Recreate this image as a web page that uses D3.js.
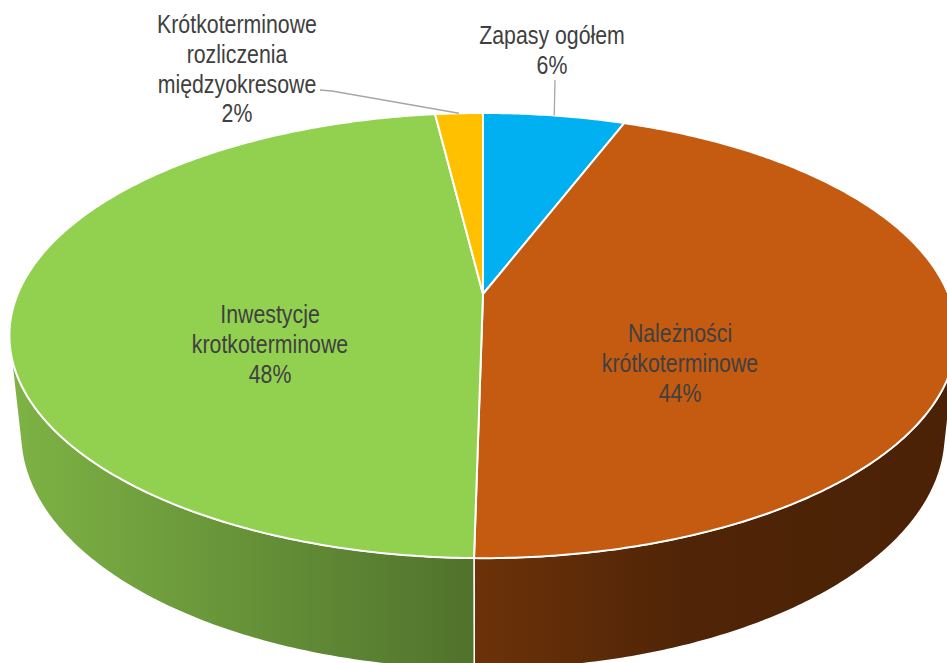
<!DOCTYPE html>
<html>
<head>
<meta charset="utf-8">
<script src="https://cdn.jsdelivr.net/npm/d3@7"></script>
<style>
  html, body { margin: 0; padding: 0; background: #fff; }
  svg { display: block; }
</style>
</head>
<body>
<div id="chart"></div>
<script>
// slice data (percent shares)
const categories = ['Zapasy ogółem', 'Należności krótkoterminowe', 'Inwestycje krotkoterminowe', 'Krótkoterminowe rozliczenia międzyokresowe'];
const shares = [5.8, 44.45, 47.8, 1.95];
const labelLines = [
  ['Zapasy ogółem'],
  ['Należności', 'krótkoterminowe'],
  ['Inwestycje', 'krotkoterminowe'],
  ['Krótkoterminowe', 'rozliczenia', 'międzyokresowe']
];
const colors = ['#00B0F0', '#C55A11', '#92D050', '#FFC000'];

const width = 947, height = 663;

// camera for the 3D look
const cam = { cx: 483, cy: 294, f: 2210, d: 4.75, tilt: 27.5 * Math.PI / 180, depth: 0.24 };
const sinT = Math.sin(cam.tilt), cosT = Math.cos(cam.tilt);

// a = angle clockwise from the back, r = radius (0..1), z = height (0 top)
function project(a, r, z) {
  const x = r * Math.sin(a), y = r * Math.cos(a);
  const dz = cam.d + y * cosT - z * sinT;
  return [cam.cx + cam.f * x / dz, cam.cy - cam.f * (y * sinT + z * cosT) / dz];
}

// label placement (center x, first baseline) and leader lines
const labelPos = [
  { x: 552, y: 44, leader: [[555, 80]] },
  { x: 680, y: 342 },
  { x: 270, y: 323 },
  { x: 237, y: 33, leader: [[320, 90], [332, 91]] }
];
const lineGap = 29.8;

const svg = d3.select('#chart').append('svg')
  .attr('width', width)
  .attr('height', height);

const pie = d3.pie().sort(null).value(d => d)(shares);
const total = d3.sum(shares);
const pct = d3.format('.0%');
const line = d3.line();

function arcPoints(a0, a1, z) {
  const n = Math.max(2, Math.ceil(Math.abs(a1 - a0) / 0.01));
  return d3.range(n + 1).map(i => project(a0 + (a1 - a0) * i / n, 1, z));
}

// side gradients
const defs = svg.append('defs');
function shade(c, k) {
  const col = d3.rgb(c);
  return d3.rgb(col.r * k, col.g * k, col.b * k).formatHex();
}
colors.forEach((c, i) => {
  const g = defs.append('linearGradient')
    .attr('id', 'side' + i)
    .attr('gradientUnits', 'userSpaceOnUse')
    .attr('x1', 10).attr('x2', 956).attr('y1', 0).attr('y2', 0);
  [[0, 0.86], [0.49, 0.55], [0.72, 0.40], [1, 0.38]].forEach(([o, k]) => {
    g.append('stop').attr('offset', o).attr('stop-color', shade(c, k));
  });
});

// visible part of the outer wall
const visMin = Math.acos(-1 / (cam.d * cosT));
const visMax = 2 * Math.PI - visMin;

const walls = svg.append('g');
pie.forEach((p, i) => {
  const a0 = Math.max(p.startAngle, visMin);
  const a1 = Math.min(p.endAngle, visMax);
  if (a1 <= a0) return;
  const pts = arcPoints(a0, a1, 0).concat(arcPoints(a1, a0, -cam.depth));
  walls.append('path')
    .attr('d', line(pts) + 'Z')
    .attr('fill', `url(#side${i})`)
    .attr('stroke', '#fff')
    .attr('stroke-width', 1.5)
    .attr('stroke-linejoin', 'round');
});

// top faces
const tops = svg.append('g');
pie.forEach((p, i) => {
  const pts = [project(0, 0, 0)].concat(arcPoints(p.startAngle, p.endAngle, 0));
  tops.append('path')
    .attr('d', line(pts) + 'Z')
    .attr('fill', colors[i])
    .attr('stroke', '#fff')
    .attr('stroke-width', 2)
    .attr('stroke-linejoin', 'round');
});

// leader lines to the rim
pie.forEach((p, i) => {
  const lp = labelPos[i];
  if (!lp.leader) return;
  const end = project((p.startAngle + p.endAngle) / 2, 1, 0);
  svg.append('path')
    .attr('d', line(lp.leader.concat([end])))
    .attr('fill', 'none')
    .attr('stroke', '#A6A6A6')
    .attr('stroke-width', 1.3);
});

// labels
pie.forEach((p, i) => {
  const lp = labelPos[i];
  const lines = labelLines[i].concat([pct(shares[i] / total)]);
  const t = svg.append('text')
    .attr('transform', `translate(${lp.x},${lp.y}) scale(0.82,1)`)
    .attr('text-anchor', 'middle')
    .attr('font-family', 'Liberation Sans, Arial, sans-serif')
    .attr('font-size', 26)
    .attr('fill', '#404040');
  lines.forEach((s, j) => {
    t.append('tspan').attr('x', 0).attr('y', j * lineGap).text(s);
  });
});
</script>
</body>
</html>
